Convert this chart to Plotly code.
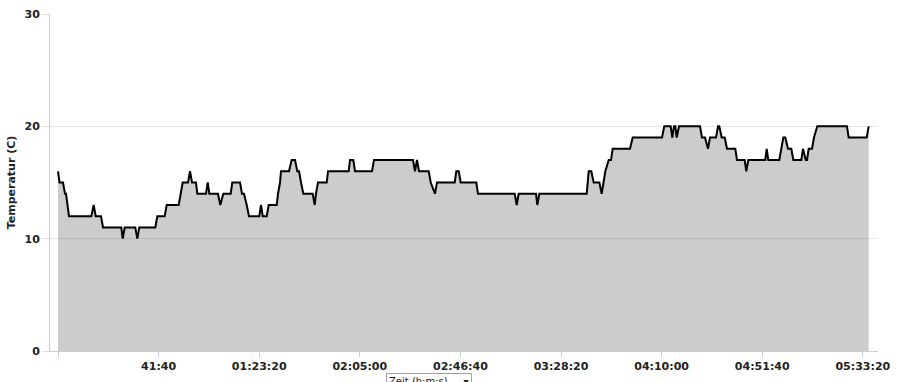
import plotly.graph_objects as go

# Zeit (Sekunden seit Start) und Temperatur (°C)
zeit_s = [0, 37, 124, 174, 199, 273, 828, 887, 937, 1069, 1118,
          1573, 1608, 1657, 1921, 1971, 2020, 2418, 2468, 2651, 2701,
          2999, 3049, 3099, 3231, 3280, 3330, 3429, 3461, 3678, 3720,
          3760, 3976, 4033, 4108, 4292, 4331, 4523, 4572, 4622, 4689,
          4746, 5002, 5045, 5087, 5186, 5236, 5435, 5467, 5517, 5542,
          5740, 5807, 5889, 5947, 5989, 6039, 6096, 6330, 6379, 6411,
          6461, 6677, 6710, 7224, 7256, 7338, 7380, 7803, 7853, 8822,
          8871, 8921, 8971, 9212, 9262, 9368, 9418, 9858, 9898, 9958,
          10007, 10395, 10437, 11349, 11399, 11448, 11878, 11911, 11960, 13138,
          13188, 13253, 13312, 13452, 13511, 13601, 13685, 13742, 13784, 14214,
          14281, 15009, 15066, 15225, 15265, 15307, 15340, 15374, 15432, 15954,
          16003, 16078, 16153, 16202, 16351, 16401, 16433, 16493, 16567, 16625,
          16831, 16873, 17064, 17104, 17154, 17576, 17611, 17651, 17924, 17974,
          18024, 18074, 18141, 18223, 18273, 18471, 18513, 18581, 18613, 18655,
          18737, 18786, 18868, 19606, 19648, 20096, 20146]
temperatur = [16, 15, 15, 14, 14, 12, 12, 13, 12, 12, 11,
              11, 10, 11, 11, 10, 11, 11, 12, 12, 13,
              13, 14, 15, 15, 16, 15, 15, 14, 14, 15,
              14, 14, 13, 14, 14, 15, 15, 14, 14, 13,
              12, 12, 13, 12, 12, 13, 13, 14, 15, 16,
              16, 17, 17, 16, 16, 15, 14, 14, 13, 14,
              15, 15, 16, 16, 17, 17, 16, 16, 17, 17,
              16, 17, 16, 16, 15, 14, 15, 15, 16, 16,
              15, 15, 14, 14, 13, 14, 14, 13, 14, 14,
              16, 16, 15, 15, 14, 16, 17, 17, 18, 18,
              19, 19, 20, 20, 19, 20, 20, 19, 20, 20,
              19, 19, 18, 19, 19, 20, 20, 19, 19, 18,
              18, 17, 17, 16, 17, 17, 18, 17, 17, 18,
              19, 19, 18, 18, 17, 17, 18, 17, 17, 18,
              18, 19, 20, 20, 19, 19, 20]

x_tickvals = [0, 2500, 5000, 7500, 10000, 12500, 15000, 17500, 20000]
x_ticktext = ["", "41:40", "01:23:20", "02:05:00", "02:46:40",
              "03:28:20", "04:10:00", "04:51:40", "05:33:20"]
y_tickvals = [0, 10, 20, 30]

fig = go.Figure()
fig.add_trace(go.Scatter(
    x=zeit_s, y=temperatur, mode="lines",
    line=dict(color="#000000", width=2),
    fill="tozeroy", fillcolor="rgba(0,0,0,0.2)",
    hoverinfo="skip", showlegend=False,
))

tickfont = dict(family="DejaVu Sans", size=11, color="#222222", weight="bold")

fig.update_layout(
    width=898, height=382,
    margin=dict(l=50, r=20, t=14, b=31, pad=0, autoexpand=False),
    paper_bgcolor="#ffffff", plot_bgcolor="#ffffff",
    font=dict(family="DejaVu Sans", size=11, color="#222222"),
    xaxis=dict(
        range=[-199, 20377],
        tickvals=x_tickvals, ticktext=x_ticktext,
        tickfont=tickfont, automargin=False,
        ticks="outside", ticklen=5, tickcolor="#C0D0E0",
        showgrid=False, zeroline=False,
        showline=True, linecolor="#C0D0E0", linewidth=1,
    ),
    yaxis=dict(
        range=[0, 30],
        tickvals=y_tickvals,
        tickfont=tickfont, automargin=False,
        ticks="outside", ticklen=7, tickcolor="#E0E0E0",
        showgrid=True, gridcolor="#E6E6E6", gridwidth=1,
        zeroline=False,
        showline=True, linecolor="#C0D0E0", linewidth=1,
        title=dict(text="Temperatur (C)",
                   font=dict(family="DejaVu Sans", size=11, color="#222222", weight="bold"),
                   standoff=6),
    ),
)

fig.add_annotation(
    x=(428.5 - 50) / 828, y=-22 / 337, xref="paper", yref="paper",
    xanchor="center", yanchor="top", showarrow=False,
    text="Zeit (h:m:s)&nbsp;&nbsp;&nbsp;&nbsp;&nbsp;▾",
    font=dict(family="DejaVu Sans", size=10, color="#222222"),
    bordercolor="#A0A0A0", borderwidth=1, borderpad=2, bgcolor="#ffffff",
)

fig.write_html("out.html")
